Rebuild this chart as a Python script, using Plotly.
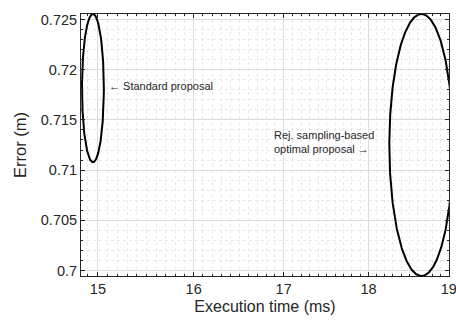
import numpy as np
import plotly.graph_objects as go

# Ellipse summaries (data units): centre and semi-axes
labels = ["Standard proposal", "Rej. sampling-based optimal proposal"]
center_time = [14.95, 18.655]     # ms
center_err = [0.71817, 0.7125]    # m
half_time = [0.11, 0.40]          # ms
half_err = [0.007385, 0.01305]    # m

x_ticks = [15, 16, 17, 18, 19]
y_ticks = [0.7, 0.705, 0.71, 0.715, 0.72, 0.725]
x_minor = [round(14.9 + 0.1 * i, 1) for i in range(42)]
y_minor = [round(0.699 + 0.001 * i, 3) for i in range(28)]

fig = go.Figure()
t = np.linspace(0, 2 * np.pi, 400)
for cx, cy, ax, ay in zip(center_time, center_err, half_time, half_err):
    fig.add_trace(go.Scatter(x=cx + ax * np.cos(t), y=cy + ay * np.sin(t),
                             mode="lines", line=dict(color="black", width=2),
                             showlegend=False, hoverinfo="skip"))

axis_col = "#262626"
font_fam = "Liberation Sans, Arial, sans-serif"

fig.update_layout(
    width=456, height=323,
    margin=dict(l=81, r=7, t=14, b=47),
    plot_bgcolor="white", paper_bgcolor="white",
    font=dict(family=font_fam, color=axis_col, size=14),
    xaxis=dict(type="log", range=[np.log10(14.83), np.log10(19.004)],
               tickmode="array", tickvals=x_ticks, ticktext=[str(v) for v in x_ticks],
               ticklabeloverflow="allow", automargin=False,
               ticks="inside", ticklen=4, tickcolor=axis_col, tickwidth=1,
               showline=True, linecolor=axis_col, linewidth=1, mirror="ticks",
               showgrid=True, gridcolor="#dcdcdc", gridwidth=1,
               minor=dict(tickmode="array", tickvals=x_minor, ticks="inside", ticklen=2,
                          tickcolor=axis_col, showgrid=True, gridcolor="#e8e8e8",
                          griddash="dot", gridwidth=1),
               tickfont=dict(size=14.5), zeroline=False,
               title=dict(text="Execution time (ms)", font=dict(size=16), standoff=4)),
    yaxis=dict(range=[0.69945, 0.72555],
               tickmode="array", tickvals=y_ticks, ticktext=[str(v) for v in y_ticks],
               ticks="inside", ticklen=4, tickcolor=axis_col, tickwidth=1,
               showline=True, linecolor=axis_col, linewidth=1, mirror="ticks",
               showgrid=True, gridcolor="#dcdcdc", gridwidth=1,
               minor=dict(tickmode="array", tickvals=y_minor, ticks="inside", ticklen=2,
                          tickcolor=axis_col, showgrid=True, gridcolor="#e8e8e8",
                          griddash="dot", gridwidth=1),
               tickfont=dict(size=14.5), zeroline=False,
               title=dict(text="Error (m)", font=dict(size=16.5), standoff=10)),
)

fig.add_annotation(x=np.log10(15.09), y=0.71838, xref="x", yref="y",
                   text="\u2190 " + labels[0], showarrow=False,
                   xanchor="left", yanchor="middle", font=dict(size=11, color=axis_col))
fig.add_annotation(x=np.log10(16.87), y=0.71275, xref="x", yref="y",
                   text="Rej. sampling-based<br>optimal proposal \u2192", showarrow=False,
                   xanchor="left", yanchor="middle", align="left",
                   font=dict(size=11, color=axis_col))

fig.write_html("out.html")
